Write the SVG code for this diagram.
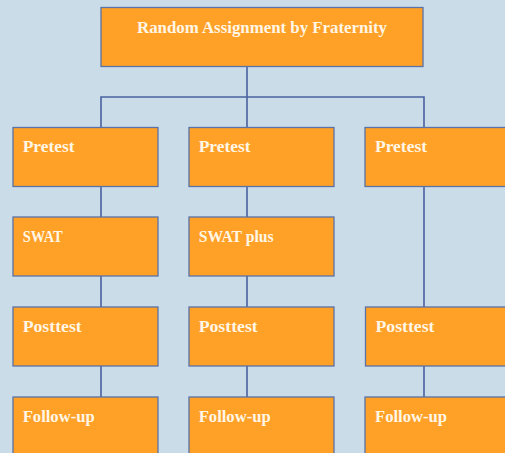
<svg xmlns="http://www.w3.org/2000/svg" width="505" height="453" viewBox="0 0 505 453">
<style>
.box{fill:#FFA127;stroke:#5B72A6;stroke-width:1.3}
.t{font-family:"Liberation Serif","DejaVu Serif",serif;font-weight:bold;font-size:16px;fill:#FFF6E6}
.c{fill:none;stroke:#4A62A0;stroke-width:1.6}
</style>
<rect width="505" height="453" fill="#CADCE8"/>
<g id="connectors">
<path class="c" d="M247,66V97M101,127V97H424V127M247,97V127"/>
<path class="c" d="M101,186V217M101,276V307M101,366V397"/>
<path class="c" d="M247,186V217M247,276V307M247,366V397"/>
<path class="c" d="M424,186V307M424,366V397"/>
</g>
<g id="n0"><rect class="box" x="101" y="7.5" width="322" height="59"/><text class="t" x="137" y="32.5" textLength="250" lengthAdjust="spacingAndGlyphs">Random Assignment by Fraternity</text></g>
<g id="n1"><rect class="box" x="13" y="127.5" width="145" height="59"/><text class="t" x="22.7" y="151.5" textLength="52" lengthAdjust="spacingAndGlyphs">Pretest</text></g>
<g id="n2"><rect class="box" x="189" y="127.5" width="145" height="59"/><text class="t" x="198.7" y="151.5" textLength="52" lengthAdjust="spacingAndGlyphs">Pretest</text></g>
<g id="n3"><rect class="box" x="365" y="127.5" width="150" height="59"/><text class="t" x="375" y="151.5" textLength="52" lengthAdjust="spacingAndGlyphs">Pretest</text></g>
<g id="n4"><rect class="box" x="13" y="217" width="145" height="59"/><text class="t" x="22.7" y="241.5" textLength="40" lengthAdjust="spacingAndGlyphs">SWAT</text></g>
<g id="n5"><rect class="box" x="189" y="217" width="145" height="59"/><text class="t" x="198.7" y="241.5" textLength="75" lengthAdjust="spacingAndGlyphs">SWAT plus</text></g>
<g id="n6"><rect class="box" x="13" y="307" width="145" height="59"/><text class="t" x="22.7" y="331.5" textLength="59" lengthAdjust="spacingAndGlyphs">Posttest</text></g>
<g id="n7"><rect class="box" x="189" y="307" width="145" height="59"/><text class="t" x="198.7" y="331.5" textLength="59" lengthAdjust="spacingAndGlyphs">Posttest</text></g>
<g id="n8"><rect class="box" x="365.5" y="307" width="150" height="59"/><text class="t" x="375.5" y="331.5" textLength="59" lengthAdjust="spacingAndGlyphs">Posttest</text></g>
<g id="n9"><rect class="box" x="13" y="397" width="145" height="70"/><text class="t" x="22.7" y="421.5" textLength="72" lengthAdjust="spacingAndGlyphs">Follow-up</text></g>
<g id="n10"><rect class="box" x="189" y="397" width="145" height="70"/><text class="t" x="198.7" y="421.5" textLength="72" lengthAdjust="spacingAndGlyphs">Follow-up</text></g>
<g id="n11"><rect class="box" x="365" y="397" width="150" height="70"/><text class="t" x="375" y="421.5" textLength="72" lengthAdjust="spacingAndGlyphs">Follow-up</text></g>
</svg>
